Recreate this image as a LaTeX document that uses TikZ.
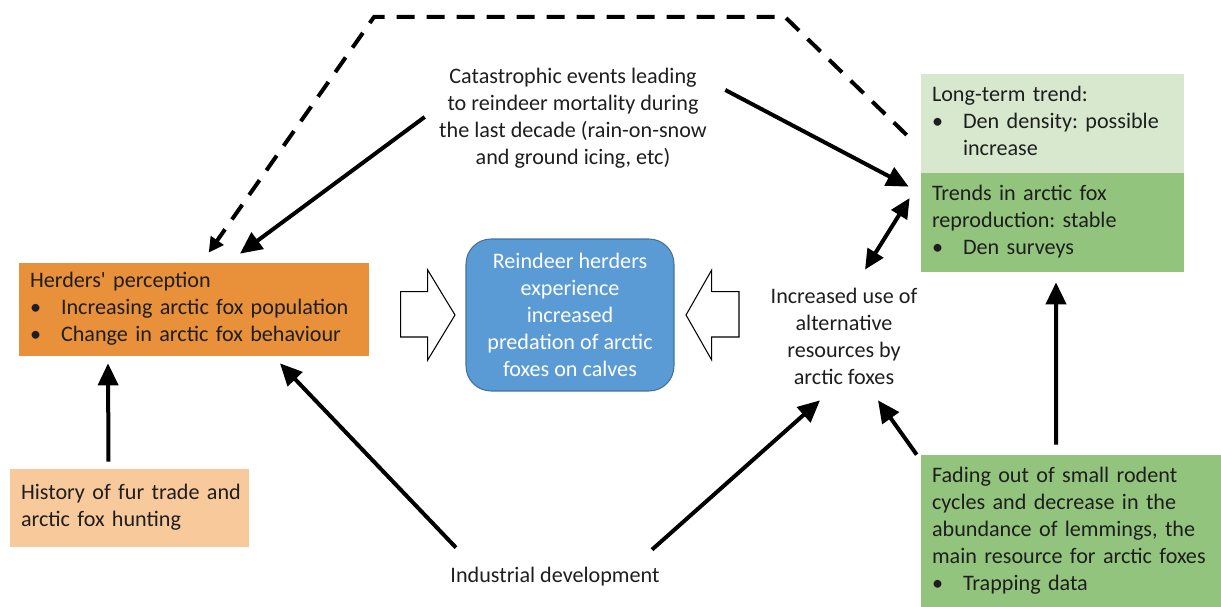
\documentclass[tikz,border=0pt]{standalone}
\usepackage{fontspec}
\setmainfont{Carlito}[Ligatures=TeXOff]
\usetikzlibrary{arrows.meta}
\definecolor{orangeA}{HTML}{E8913A}
\definecolor{orangeB}{HTML}{F8C99B}
\definecolor{blueA}{HTML}{5B9BD5}
\definecolor{blueB}{HTML}{41719C}
\definecolor{greenA}{HTML}{D7E8CF}
\definecolor{greenB}{HTML}{93C47D}
\definecolor{ink}{HTML}{1E1E1E}
\newcommand{\bl}{\makebox[0.62cm][l]{•}}
\newcommand{\bi}{\hspace*{0.62cm}}
\newcommand{\lines}[1]{\begin{tabular}{@{}l@{}}#1\end{tabular}}
\frenchspacing
\begin{document}
\begin{tikzpicture}[x=0.02cm,y=-0.02cm,
  font=\fontsize{12.6}{15.4}\selectfont\frenchspacing, text=ink,
  box/.style={rectangle, inner xsep=0.22cm, inner ysep=0pt, align=left, anchor=center},
  txt/.style={inner sep=0pt, align=center},
  arr/.style={line width=0.08cm, -{Triangle[length=0.44cm,width=0.4cm]}},
  darr/.style={line width=0.08cm, {Triangle[length=0.4cm,width=0.36cm]}-{Triangle[length=0.4cm,width=0.36cm]}},
  dashline/.style={line width=0.08cm, dash pattern=on 0.36cm off 0.24cm, line join=miter, -{Triangle[length=0.3cm,width=0.3cm]}},
  hollow/.style={draw=black, line width=0.6pt, fill=white, line join=miter}
]
\useasboundingbox (0,0) rectangle (1221,607);
\renewcommand{\arraystretch}{1}
\setlength{\tabcolsep}{0pt}

\node[box, fill=orangeA, text width=6.56cm, minimum height=1.86cm] (herd) at (194,309.5)
  {\lines{Herders' perception\\\bl Increasing arctic fox population\\\bl Change in arctic fox behaviour}};
\node[box, fill=orangeB, text width=4.34cm, minimum height=1.56cm] (history) at (129.5,508)
  {\lines{History of fur trade and\\arctic fox hunting}};
\node[rectangle, rounded corners=0.5cm, fill=blueA, draw=blueB, line width=0.6pt, text=white,
  align=center, minimum width=4.16cm, minimum height=3.04cm, inner sep=0pt] (blue) at (570,315)
  {Reindeer herders\\experience\\increased\\predation of arctic\\foxes on calves};
\node[box, fill=greenA, text width=4.82cm, minimum height=1.98cm] (longterm) at (1052.5,123.5)
  {\lines{Long-term trend:\\\bl Den density: possible\\\bi increase}};
\node[box, fill=greenB, text width=4.82cm, minimum height=1.98cm] (trends) at (1052.5,222.5)
  {\lines{Trends in arctic fox\\reproduction: stable\\\bl Den surveys}};
\node[box, fill=greenB, text width=5.56cm, minimum height=3.04cm] (fading) at (1071,531)
  {\lines{Fading out of small rodent\\cycles and decrease in the\\abundance of lemmings, the\\main resource for arctic foxes\\\bl Trapping data}};

\node[txt, minimum width=5.8cm, minimum height=2.2cm] (cat) at (573,118)
  {Catastrophic events leading\\to reindeer mortality during\\the last decade (rain-on-snow\\and ground icing, etc)};
\node[txt, minimum width=3.2cm, minimum height=2.2cm] (inc) at (844,336)
  {Increased use of\\alternative\\resources by\\arctic foxes};
\node[txt, minimum width=4.6cm, minimum height=0.6cm] (ind) at (555,577)
  {Industrial development};

% hollow block arrows
\draw[hollow] (400.7,291.7) -- (427.7,291.7) -- (427.7,270) -- (455,315) -- (427.7,360) -- (427.7,337) -- (400.7,337) -- cycle;
\draw[hollow] (739,291.7) -- (711.7,291.7) -- (711.7,270) -- (686,315) -- (711.7,360) -- (711.7,337) -- (739,337) -- cycle;

% connectors
\coordinate (dtr) at (785,17);
\coordinate (dtl) at (374,17);
\draw[dashline] ([shift={(-14,11.5)}]longterm.west) -- (dtr) -- (dtl) -- ([shift={(190,-10)}]herd.north west);
\draw[arr] ([shift={(-3,-1)}]cat.west) -- ([shift={(46,-9)}]herd.north);
\draw[arr] ([shift={(7,-28)}]cat.east) -- ([shift={(-12,14)}]trends.north west);
\draw[darr] ([shift={(21,-11)}]inc.north) -- ([shift={(-11,-24.5)}]trends.west);
\draw[arr] ([shift={(97,-12)}]ind.north) -- ([shift={(-24,9)}]inc.south);
\draw[arr] ([shift={(-99,-14)}]ind.north) -- ([shift={(86,7)}]herd.south);
\draw[arr] ([shift={(-4,0)}]fading.north west) -- ([shift={(34,9)}]inc.south);
\draw[arr] ([shift={(-21,-7)}]history.north) -- ([shift={(-86,7)}]herd.south);
\draw[arr] ([shift={(-15,-10)}]fading.north) -- ([shift={(3.5,10)}]trends.south);
\end{tikzpicture}
\end{document}
